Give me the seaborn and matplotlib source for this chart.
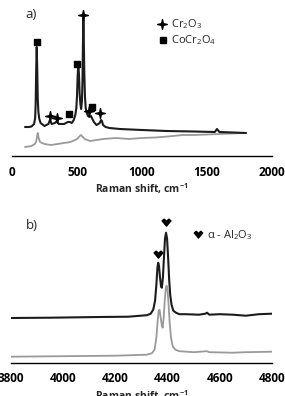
import numpy as np
import pandas as pd
import seaborn as sns
from matplotlib import pyplot as plt
from matplotlib.path import Path

sns.set_style("white")
plt.rcParams['font.family'] = ['Open Sans', 'DejaVu Sans']
plt.rcParams['mathtext.default'] = 'regular'

# ---- panel a) : Raman spectra, 0-2000 cm-1 ----
shift_a = [100, 130, 150, 170, 178, 182, 186, 190, 194, 198, 203, 210, 220, 250, 280,
           292, 305, 330, 345, 360, 400, 430, 445, 460, 475, 487, 495, 500, 505, 510, 515,
           520, 526, 532, 538, 542, 546, 549, 552, 556, 561, 567, 575, 585, 595, 608, 618,
           630, 650, 675, 685, 692, 700, 720, 750, 830, 1000, 1190, 1400, 1560, 1577, 1595,
           1700, 1800]
black_a = [29, 29, 29.5, 32, 38, 52, 85, 109, 88, 58, 44, 37, 33, 30, 32,
           36, 32, 33, 35, 32, 32, 34, 34, 33, 36, 41, 48, 60, 80, 91, 82,
           63, 52, 47, 55, 75, 115, 138, 118, 85, 60, 48, 43, 40, 39, 40, 37,
           34, 31, 33, 36, 35, 31, 29, 28, 27, 26, 25, 24.5, 24, 27, 24,
           23.5, 23]
shift_a_gray = [100, 150, 175, 185, 192, 198, 205, 215, 250, 300, 350, 400, 450, 500, 530,
                560, 600, 700, 800, 900, 1000, 1100, 1200, 1315, 1400, 1500, 1600, 1700, 1800]
gray_a = [9, 10, 12, 14, 19, 23, 18, 14, 12, 11, 12, 13, 14, 17, 21,
          17, 15, 17, 18, 17, 18, 18.5, 19.5, 21, 21, 21.5, 22, 22.5, 23]

cr2o3_x = [549, 292, 349, 593, 677]
cr2o3_y = [141, 40, 38, 45, 43]
cocr2o4_x = [190, 502, 441, 618]
cocr2o4_y = [114, 92, 42, 49]

# ---- panel b) : 3800-4800 cm-1 ----
shift_b = [3800, 3950, 4140, 4250, 4320, 4335, 4345, 4352, 4357, 4361, 4364, 4367, 4371,
           4375, 4378, 4382, 4386, 4390, 4394, 4398, 4402, 4406, 4410, 4415, 4422, 4432,
           4445, 4470, 4520, 4545, 4551, 4560, 4600, 4650, 4700, 4750, 4800]
black_b = [44.7, 45, 45.7, 46, 47.5, 49, 53, 62, 78, 95, 100, 97, 85,
           76, 75, 85, 105, 124, 130, 124, 105, 83, 68, 58, 52, 50,
           48.5, 48.5, 48, 49, 50, 48, 48.5, 48, 47, 48.5, 49]
shift_b_gray = [3800, 4000, 4200, 4320, 4340, 4350, 4357, 4362, 4366, 4369, 4373, 4378,
                4381, 4385, 4389, 4393, 4396, 4400, 4404, 4408, 4413, 4420, 4430, 4445,
                4500, 4550, 4560, 4650, 4700, 4800]
gray_b = [6, 6.5, 7, 8, 9.5, 13, 25, 42, 52, 53, 46, 37,
          35, 45, 62, 74, 77, 72, 57, 40, 25, 16, 13, 11.5,
          10.5, 11.5, 10.5, 10, 10.5, 11]

al2o3_x = [4364, 4394]
al2o3_y = [108, 140]

BLACK = '#1c1c1c'
GRAY = '#9a9a9a'

star = Path([(0, 1), (0.18, 0.18), (1, 0), (0.18, -0.18), (0, -1), (-0.18, -0.18),
             (-1, 0), (-0.18, 0.18), (0, 1)], closed=True)
chevron = Path([(-1, 0.6), (-0.55, 1), (0, 0.5), (0.55, 1), (1, 0.6), (0, -0.6), (-1, 0.6)],
               closed=True)

W, H = 285, 396
fig = plt.figure(figsize=(2.85, 3.96), dpi=100)
ax1 = fig.add_axes([12 / W, 1 - 156 / H, 260 / W, 156 / H])
ax2 = fig.add_axes([11 / W, 1 - 362.7 / H, 261 / W, 157.7 / H])

df_a = pd.DataFrame({'shift': shift_a, 'I': black_a})
df_ag = pd.DataFrame({'shift': shift_a_gray, 'I': gray_a})
sns.lineplot(data=df_ag, x='shift', y='I', ax=ax1, color=GRAY, lw=1.3)
sns.lineplot(data=df_a, x='shift', y='I', ax=ax1, color=BLACK, lw=1.5)
ax1.scatter(cr2o3_x, cr2o3_y, marker=star, s=50, color='black', zorder=5)
ax1.scatter(cocr2o4_x, cocr2o4_y, marker='s', s=18, color='black', zorder=5)
ax1.set_xlim(0, 2000)
ax1.set_ylim(0, 156)
ax1.set_xticks([0, 500, 1000, 1500, 2000])

df_b = pd.DataFrame({'shift': shift_b, 'I': black_b})
df_bg = pd.DataFrame({'shift': shift_b_gray, 'I': gray_b})
sns.lineplot(data=df_bg, x='shift', y='I', ax=ax2, color=GRAY, lw=1.3)
sns.lineplot(data=df_b, x='shift', y='I', ax=ax2, color=BLACK, lw=1.5)
ax2.scatter(al2o3_x, al2o3_y, marker=chevron, s=40, color='black', zorder=5)
ax2.set_xlim(3800, 4800)
ax2.set_ylim(0, 157.7)
ax2.set_xticks([3800, 4000, 4200, 4400, 4600, 4800])

for ax in (ax1, ax2):
    sns.despine(ax=ax, left=True)
    ax.patch.set_alpha(0)
    ax.spines['bottom'].set_color('black')
    ax.spines['bottom'].set_linewidth(1.0)
    ax.set_yticks([])
    ax.set_ylabel('')
    ax.tick_params(axis='x', direction='inout', length=7, width=1, colors='black',
                   labelsize=8.5, pad=3.5)
    for lab in ax.get_xticklabels():
        lab.set_fontweight('bold')
    ax.set_xlabel('Raman shift, cm$^{-1}$', fontsize=7.5, fontweight='bold', labelpad=2)

# panel letters and legend keys
fig.text(25 / W, 1 - 15 / H, 'a)', fontsize=9.5, va='center', ha='left')
fig.text(26 / W, 1 - 225 / H, 'b)', fontsize=9.5, va='center', ha='left')

fig.add_artist(plt.Line2D([162 / W], [1 - 23.5 / H], marker=star, ms=7, color='black',
                          transform=fig.transFigure))
fig.text(171 / W, 1 - 24 / H, 'Cr$_2$O$_3$', fontsize=8, va='center', ha='left')
fig.add_artist(plt.Line2D([162.5 / W], [1 - 40 / H], marker='s', ms=4.5, color='black',
                          transform=fig.transFigure))
fig.text(171 / W, 1 - 40.5 / H, 'CoCr$_2$O$_4$', fontsize=8, va='center', ha='left')

fig.add_artist(plt.Line2D([198.5 / W], [1 - 235 / H], marker=chevron, ms=6, color='black',
                          transform=fig.transFigure))
fig.text(207 / W, 1 - 235.5 / H, '$\\alpha$ - Al$_2$O$_3$', fontsize=8, va='center', ha='left')

fig.savefig('out.png', dpi=100)
